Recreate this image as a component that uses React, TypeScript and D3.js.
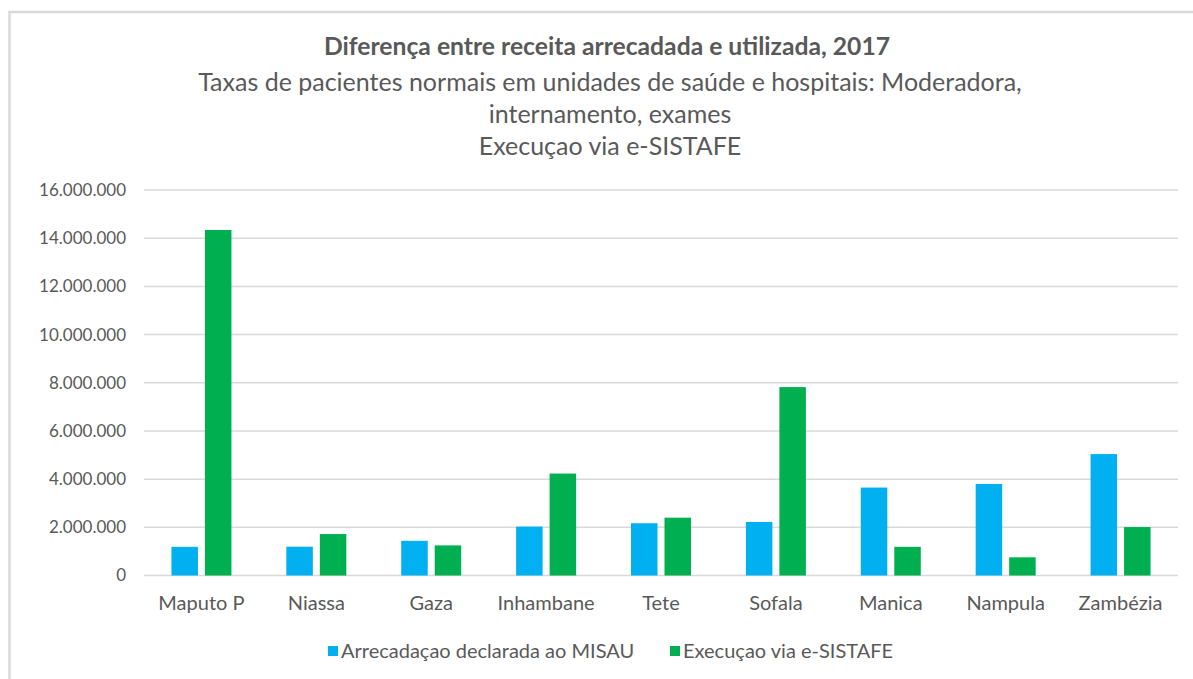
import { useRef, useEffect } from 'react';
import * as d3 from 'd3';

const categories = ['Maputo P', 'Niassa', 'Gaza', 'Inhambane', 'Tete', 'Sofala', 'Manica', 'Nampula', 'Zambézia'];
const arrecadacao = [1190000, 1195000, 1440000, 2030000, 2170000, 2220000, 3650000, 3800000, 5040000];
const execucao = [14340000, 1720000, 1250000, 4230000, 2400000, 7820000, 1190000, 755000, 2010000];
const seriesNames = ['Arrecadaçao declarada ao MISAU', 'Execuçao via e-SISTAFE'];
const seriesColors = ['#00B0F0', '#00B050'];
const yTicks = [0, 2000000, 4000000, 6000000, 8000000, 10000000, 12000000, 14000000, 16000000];
const titleLines = [
  'Taxas de pacientes normais em unidades de saúde e hospitais: Moderadora,',
  'internamento, exames',
  'Execuçao via e-SISTAFE'
];

const W = 1193;
const H = 679;
const FONT = 'Lato, "Open Sans", sans-serif';

export default function App() {
  const svgRef = useRef<SVGSVGElement>(null);

  useEffect(() => {
    if (!svgRef.current) return;
    const svg = d3.select(svgRef.current);
    svg.selectAll('*').remove();

    // chart border
    svg.append('rect')
      .attr('x', 9.5).attr('y', 12)
      .attr('width', W + 20).attr('height', H + 20)
      .attr('fill', '#fff')
      .attr('stroke', '#d9d9d9')
      .attr('stroke-width', 2.5);

    const x = d3.scaleBand<string>().domain(categories).range([144, 1178]);
    const y = d3.scaleLinear().domain([0, 16000000]).range([575.5, 190]);

    const fmt = d3.formatLocale({ decimal: ',', thousands: '.', grouping: [3], currency: ['', ''] }).format(',');

    // title
    svg.append('text')
      .attr('x', 607).attr('y', 55)
      .attr('text-anchor', 'middle')
      .attr('font-family', FONT)
      .attr('font-weight', 'bold')
      .attr('font-size', 24.7)
      .attr('fill', '#595959')
      .text('Diferença entre receita arrecadada  e utilizada, 2017');

    titleLines.forEach((t, i) => {
      svg.append('text')
        .attr('x', 610).attr('y', 91 + i * 32)
        .attr('text-anchor', 'middle')
        .attr('font-family', FONT)
        .attr('font-size', 25)
        .attr('fill', '#595959')
        .text(t);
    });

    // gridlines + y labels
    const grid = svg.append('g');
    yTicks.forEach(v => {
      grid.append('line')
        .attr('x1', 144).attr('x2', 1178)
        .attr('y1', y(v)).attr('y2', y(v))
        .attr('stroke', '#d9d9d9')
        .attr('stroke-width', 1.5);
      grid.append('text')
        .attr('x', 126).attr('y', y(v))
        .attr('dy', '0.35em')
        .attr('text-anchor', 'end')
        .attr('font-family', FONT)
        .attr('font-size', 17)
        .attr('fill', '#595959')
        .text(fmt(v));
    });

    // bars
    const bw = 26.5;
    const gap = 7;
    const series = [arrecadacao, execucao];
    series.forEach((vals, si) => {
      svg.append('g')
        .selectAll('rect')
        .data(vals)
        .join('rect')
        .attr('x', (_, i) => x(categories[i])! + x.bandwidth() / 2 + (si === 0 ? -gap / 2 - bw : gap / 2))
        .attr('y', d => y(d))
        .attr('width', bw)
        .attr('height', d => y(0) - y(d))
        .attr('fill', seriesColors[si]);
    });

    // category labels
    categories.forEach(c => {
      svg.append('text')
        .attr('x', x(c)! + x.bandwidth() / 2)
        .attr('y', 610)
        .attr('text-anchor', 'middle')
        .attr('font-family', FONT)
        .attr('font-size', 20)
        .attr('fill', '#595959')
        .text(c);
    });

    // legend
    const legendX = [328, 670];
    seriesNames.forEach((n, i) => {
      svg.append('rect')
        .attr('x', legendX[i]).attr('y', 646)
        .attr('width', 10).attr('height', 10)
        .attr('fill', seriesColors[i]);
      svg.append('text')
        .attr('x', legendX[i] + 13).attr('y', 651)
        .attr('dy', '0.35em')
        .attr('font-family', FONT)
        .attr('font-size', 20)
        .attr('fill', '#595959')
        .text(n);
    });
  }, []);

  return (
    <div style={{ position: 'fixed', left: 0, top: 0, width: W, height: H, background: '#fff' }}>
      <svg ref={svgRef} width={W} height={H}></svg>
    </div>
  );
}
